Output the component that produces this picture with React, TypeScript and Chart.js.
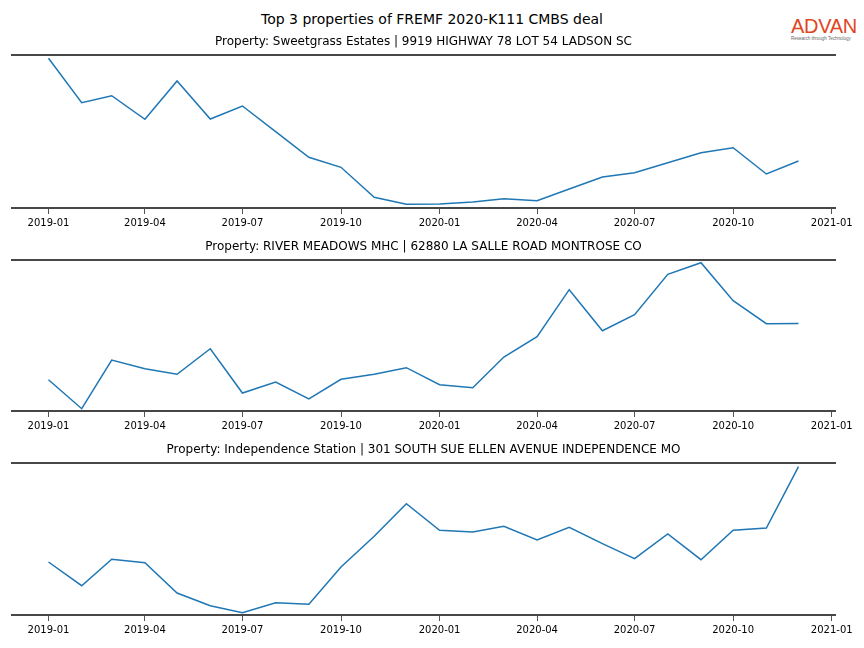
import React, { useEffect, useRef } from "react";
import { Chart, registerables } from "chart.js";

Chart.register(...registerables);

const MONTHS = [
  "2019-01", "2019-02", "2019-03", "2019-04", "2019-05", "2019-06",
  "2019-07", "2019-08", "2019-09", "2019-10", "2019-11", "2019-12",
  "2020-01", "2020-02", "2020-03", "2020-04", "2020-05", "2020-06",
  "2020-07", "2020-08", "2020-09", "2020-10", "2020-11", "2020-12",
];

const TICK_LABELS = [
  "2019-01", "2019-04", "2019-07", "2019-10",
  "2020-01", "2020-04", "2020-07", "2020-10", "2021-01",
];

const MAIN_TITLE = "Top 3 properties of FREMF 2020-K111 CMBS deal";

const TITLE_1 = "Property: Sweetgrass Estates | 9919 HIGHWAY 78 LOT 54 LADSON SC";
const TITLE_2 = "Property: RIVER MEADOWS MHC | 62880 LA SALLE ROAD MONTROSE CO";
const TITLE_3 = "Property: Independence Station | 301 SOUTH SUE ELLEN AVENUE INDEPENDENCE MO";

const SWEETGRASS = [
  149.7, 105.3, 112.3, 88.7, 127, 89, 102, 76.3, 50.7, 40.7, 10.7, 3.7,
  4, 6, 9.3, 7.3, 19, 31, 35.3, 45.3, 55.3, 60.3, 34, 47,
];
const RIVER_MEADOWS = [
  31.3, 2.3, 51, 42.3, 36.7, 62.3, 18, 29, 12, 31.7, 36.7, 43.3,
  26.3, 23.3, 54, 74.3, 121.3, 80.3, 96.3, 136.7, 148.3, 110.3, 87.3, 87.5,
];
const INDEPENDENCE = [
  53, 29.3, 55.7, 52.3, 22, 9.3, 2.3, 12.3, 10.7, 48, 78.7, 111.3,
  84.7, 83, 88.7, 75, 87.7, 71.3, 56.3, 81, 55.3, 84.7, 87, 148.3,
];

function dayOf(ym: string): number {
  const [y, m] = ym.split("-").map(Number);
  return (Date.UTC(y, m - 1, 1) - Date.UTC(2019, 0, 1)) / 86400000;
}

const TICK_DAYS = TICK_LABELS.map(dayOf);

const PANELS = [
  { title: TITLE_1, values: SWEETGRASS, canvasTop: 30, spineTop: 55, spineBottom: 208 },
  { title: TITLE_2, values: RIVER_MEADOWS, canvasTop: 235, spineTop: 260, spineBottom: 411 },
  { title: TITLE_3, values: INDEPENDENCE, canvasTop: 438, spineTop: 463, spineBottom: 615 },
];

const AXIS_H = 25;

const framePlugin = {
  id: "frame",
  afterDraw(chart: any, _args: any, opts: any) {
    const { ctx, chartArea } = chart;
    const { left, right, top, bottom } = chartArea;
    ctx.save();
    ctx.strokeStyle = "#474747";
    ctx.lineWidth = 2;
    ctx.beginPath();
    ctx.moveTo(left, top);
    ctx.lineTo(right, top);
    ctx.moveTo(left, bottom);
    ctx.lineTo(right, bottom);
    ctx.stroke();
    ctx.fillStyle = "#000";
    ctx.font = "12px 'DejaVu Sans'";
    ctx.textAlign = "center";
    ctx.textBaseline = "middle";
    ctx.fillText(opts.title, (left + right) / 2, top - 13);
    ctx.restore();
  },
};

function Panel({ panel }: { panel: typeof PANELS[number] }) {
  const ref = useRef<HTMLCanvasElement | null>(null);
  const height = panel.spineBottom - panel.canvasTop + AXIS_H;
  const yMax = panel.spineBottom - panel.spineTop;

  useEffect(() => {
    if (!ref.current) return;
    const chart = new Chart(ref.current, {
      type: "line",
      data: {
        datasets: [
          {
            data: MONTHS.map((m, i) => ({ x: dayOf(m), y: panel.values[i] })),
            borderColor: "#1f77b4",
            borderWidth: 1.5,
            pointRadius: 0,
            tension: 0,
            fill: false,
          },
        ],
      },
      options: {
        responsive: false,
        animation: false,
        layout: {
          padding: { top: panel.spineTop - panel.canvasTop, left: 11, right: 28, bottom: 0 },
        },
        plugins: {
          legend: { display: false },
          tooltip: { enabled: false },
          frame: { title: panel.title },
        } as any,
        scales: {
          x: {
            type: "linear",
            min: -35,
            max: 735,
            afterBuildTicks: (s: any) => {
              s.ticks = TICK_DAYS.map((v) => ({ value: v }));
            },
            afterFit: (s: any) => {
              s.height = AXIS_H;
            },
            grid: {
              display: true,
              drawOnChartArea: false,
              drawTicks: true,
              tickLength: 6,
              tickColor: "#555",
              lineWidth: 1,
            },
            border: { display: false },
            ticks: {
              autoSkip: false,
              maxRotation: 0,
              minRotation: 0,
              padding: 3,
              color: "#000",
              font: { size: 10, family: "'DejaVu Sans'" },
              callback: (_v: any, i: number) => TICK_LABELS[i],
            },
          },
          y: {
            type: "linear",
            display: false,
            min: 0,
            max: yMax,
          },
        },
      },
      plugins: [framePlugin],
    } as any);
    return () => chart.destroy();
  }, []);

  return (
    <canvas
      ref={ref}
      width={864}
      height={height}
      style={{ position: "absolute", left: 0, top: panel.canvasTop, width: 864, height, display: "block" }}
    />
  );
}

export default function App() {
  return (
    <div
      style={{
        position: "absolute",
        left: 0,
        top: 0,
        width: 864,
        height: 648,
        background: "#fff",
        overflow: "hidden",
        fontFamily: "'DejaVu Sans'",
      }}
    >
      <div
        style={{
          position: "absolute",
          top: 10,
          left: 0,
          width: 864,
          textAlign: "center",
          fontSize: 14,
          lineHeight: "18px",
          color: "#000",
        }}
      >
        {MAIN_TITLE}
      </div>
      <div style={{ position: "absolute", left: 791, top: 15, width: 70 }}>
        <div
          style={{
            fontFamily: "'Liberation Sans'",
            fontSize: 20,
            lineHeight: "22px",
            color: "#e0461e",
            letterSpacing: -0.3,
          }}
        >
          ADVAN
        </div>
        <div
          style={{
            fontFamily: "'Liberation Sans'",
            fontSize: 4.5,
            lineHeight: "5px",
            color: "#666",
            marginTop: -1,
            whiteSpace: "nowrap",
          }}
        >
          Research through Technology
        </div>
      </div>
      {PANELS.map((p, i) => (
        <Panel key={i} panel={p} />
      ))}
    </div>
  );
}
